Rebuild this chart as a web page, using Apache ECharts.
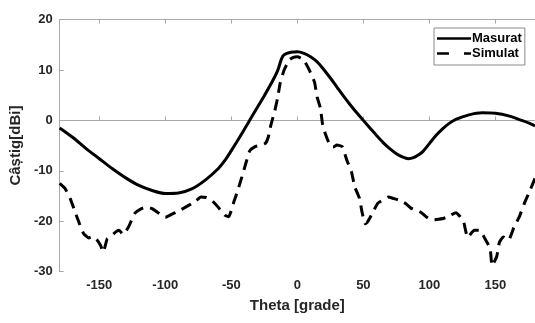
<!DOCTYPE html>
<html>
<head>
<meta charset="utf-8">
<script src="https://cdn.jsdelivr.net/npm/echarts@6/dist/echarts.min.js"></script>
<style>html,body{margin:0;padding:0;background:#fff;}#c{width:535px;height:323px;}</style>
</head>
<body>
<div id="c"></div>
<script>
var xTicks = [-150, -100, -50, 0, 50, 100, 150];
var yTicks = [-30, -20, -10, 0, 10, 20];

var thetaMasurat = [-180,-170,-160,-150,-140,-130,-120,-110,-100,-90,-80,-70,-60,-55,-50,-45,-40,-35,-30,-25,-20,-15,-12,-10,-5,0,5,10,15,20,25,30,35,40,45,50,55,60,65,70,75,80,84,88,92,95,100,105,110,115,120,130,140,150,160,170,176,180];
var gainMasurat = [-1.5,-3.4,-5.6,-7.6,-9.6,-11.4,-12.9,-13.9,-14.5,-14.4,-13.6,-11.9,-9.6,-8.0,-6.0,-3.9,-1.7,0.5,2.7,4.9,7.2,9.8,12.2,13.0,13.5,13.6,13.3,12.6,11.6,10.1,8.4,6.6,4.8,3.1,1.5,0.0,-1.5,-3.0,-4.4,-5.6,-6.6,-7.3,-7.6,-7.4,-6.8,-6.2,-4.6,-3.0,-1.7,-0.6,0.2,1.1,1.5,1.4,0.9,0.0,-0.6,-1.1];

var thetaSimulat = [-180,-176,-172,-168,-165,-162,-158,-155,-152,-149,-147,-144,-141,-138,-135,-132,-128,-123,-118,-114,-110,-106,-100,-95,-91,-86,-82,-77,-73,-69,-65,-60,-55,-52,-48,-45,-42,-39,-36,-32,-28,-24,-22,-20,-17,-15,-13,-10,-6,-3,0,3,6,9,13,15,17.5,19,21,24,27,30,34,37.5,41,43.5,47,49,51.5,53,56,61,65,69,73,77,82,86,90,94,98,102,107,111,116,120,123,126,129,134,138,142,146,147.5,151,153,156,160,164,168,172,176,180];
var gainSimulat = [-12.5,-13.5,-15.5,-18.4,-20.5,-22.4,-23.3,-23.0,-23.6,-24.8,-26.1,-23.5,-23.0,-22.2,-21.8,-22.6,-21.2,-18.4,-17.5,-17.2,-17.5,-18.2,-19.2,-18.6,-18.1,-17.4,-16.8,-16.0,-15.2,-15.3,-15.8,-17.2,-18.8,-19.1,-16.1,-13.8,-11.2,-8.5,-6.0,-5.2,-4.9,-4.5,-3.3,-0.9,2.0,4.4,7.4,10.0,12.0,12.5,12.6,12.3,11.5,10.0,7.6,4.6,2.4,-0.6,-2.5,-4.5,-5.3,-4.9,-5.2,-7.9,-10.2,-13.2,-15.4,-18.2,-20.5,-20.2,-18.8,-16.4,-15.8,-15.2,-15.5,-15.8,-16.5,-17.4,-17.8,-18.3,-19.2,-19.8,-19.6,-19.4,-18.8,-18.3,-19.0,-20.2,-23.2,-21.8,-21.8,-23.4,-25.4,-28.8,-27.0,-24.2,-23.1,-23.7,-21.2,-19.2,-16.4,-14.0,-11.5];

function pairs(xs, ys){ var out=[]; for(var i=0;i<xs.length;i++){ out.push([xs[i], ys[i]]); } return out; }

var FONT = 'Liberation Sans, Arial, sans-serif';
var AXIS_GRAY = '#a8a8a8';
var TEXT = '#262626';

var chart = echarts.init(document.getElementById('c'), null, {renderer:'canvas'});
chart.setOption({
  animation: false,
  backgroundColor: '#ffffff',
  grid: {left: 58.7, right: -6, top: 19.5, bottom: 51.3, containLabel: false},
  xAxis: [{
    type: 'value', min: -180, max: 180, position: 'bottom',
    name: 'Theta [grade]', nameLocation: 'middle', nameGap: 27,
    nameTextStyle: {fontFamily: FONT, fontWeight: 'bold', fontSize: 15, color: TEXT},
    axisLine: {show: true, lineStyle: {color: AXIS_GRAY, width: 1}},
    axisTick: {show: true, inside: true, length: 4, customValues: xTicks, lineStyle: {color: AXIS_GRAY}},
    axisLabel: {customValues: xTicks, fontFamily: FONT, fontWeight: 'bold', fontSize: 13, color: TEXT, margin: 7},
    splitLine: {show: false}
  }, {
    type: 'value', min: -180, max: 180, position: 'top',
    axisLine: {show: true, onZero: false, lineStyle: {color: AXIS_GRAY, width: 1}},
    axisTick: {show: true, inside: true, length: 4, customValues: xTicks, lineStyle: {color: AXIS_GRAY}},
    axisLabel: {show: false},
    splitLine: {show: false}
  }],
  yAxis: [{
    type: 'value', min: -30, max: 20, interval: 10,
    name: 'Câștig[dBi]', nameLocation: 'middle', nameGap: 29, nameRotate: 90,
    nameTextStyle: {fontFamily: FONT, fontWeight: 'bold', fontSize: 15, color: TEXT},
    axisLine: {show: true, onZero: false, lineStyle: {color: AXIS_GRAY, width: 1}},
    axisTick: {show: true, inside: true, length: 4, lineStyle: {color: AXIS_GRAY}},
    axisLabel: {fontFamily: FONT, fontWeight: 'bold', fontSize: 13, color: TEXT, margin: 7,
      customValues: yTicks},
    splitLine: {show: false}
  }],
  legend: {
    orient: 'vertical', left: 434, top: 28,
    padding: [4, 3, 5, 3], itemGap: 2, itemWidth: 34, itemHeight: 14,
    backgroundColor: '#ffffff', borderColor: '#8a8a8a', borderWidth: 1, borderRadius: 0,
    textStyle: {fontFamily: FONT, fontWeight: 'bold', fontSize: 13, color: '#000', padding: [0,0,0,-4]},
    data: [{name: 'Masurat', icon: 'path://M0,6 L34,6 L34,8.5 L0,8.5 Z'}, {name: 'Simulat', icon: 'path://M0,6 L12,6 L12,8.5 L0,8.5 Z M27,6 L34,6 L34,8.5 L27,8.5 Z'}]
  },
  series: [{
    name: 'Masurat', type: 'line', data: pairs(thetaMasurat, gainMasurat),
    showSymbol: false, symbol: 'none', smooth: 0.3, clip: true,
    itemStyle: {color: '#000'},
    lineStyle: {color: '#000', width: 3}
  }, {
    name: 'Simulat', type: 'line', data: pairs(thetaSimulat, gainSimulat),
    showSymbol: false, symbol: 'none', smooth: 0.15, clip: true,
    itemStyle: {color: '#000'},
    lineStyle: {color: '#000', width: 3, type: [11, 7]}
  }]
});
</script>
</body>
</html>
